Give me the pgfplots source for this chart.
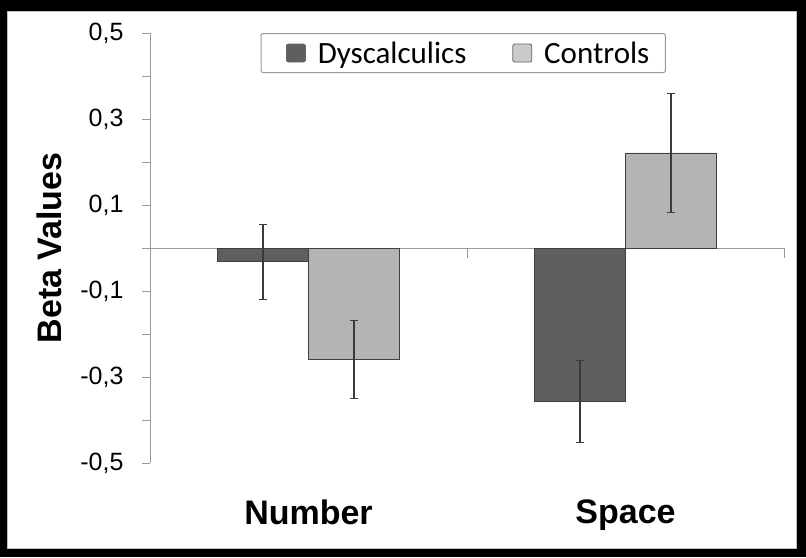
\documentclass[border=0pt]{standalone}
\usepackage{pgfplots}
\pgfplotsset{compat=1.18}
\usepackage{fontspec}
\setmainfont{Liberation Sans}
\newfontfamily\carlito{Carlito}
\definecolor{dysc}{HTML}{5F5F5F}
\definecolor{ctrl}{HTML}{B4B4B4}
\definecolor{axgray}{HTML}{9A9A9A}
\definecolor{errc}{HTML}{3A3A3A}
\begin{document}
\begin{tikzpicture}[x=1pt,y=1pt]
\useasboundingbox (0,0) rectangle (806,557);
\fill[black] (0,0) rectangle (806,557);
\fill[white,draw=gray!50] (7,9) rectangle (796,546);
\begin{axis}[
  at={(150pt,94pt)}, anchor=south west,
  scale only axis, width=634pt, height=430pt,
  xmin=-0.5, xmax=1.5, ymin=-0.5, ymax=0.5,
  ybar=0pt, bar width=91pt,
  axis y line*=left, axis x line*=bottom,
  x axis line style={draw=none},
  y axis line style={axgray, line width=1pt},
  xtick={0,1}, xticklabels={Number,Space},
  x tick style={draw=none},
  xticklabel style={font=\bfseries\fontsize{34}{40}\selectfont, yshift=-25pt},
  ytick={-0.5,-0.3,-0.1,0.1,0.3,0.5},
  yticklabels={{-0,5},{-0,3},{-0,1},{0,1},{0,3},{0,5}},
  minor ytick={-0.4,-0.2,0,0.2,0.4},
  y tick style={axgray, line width=1pt},
  tick align=outside,
  major tick length=8pt, minor tick length=8pt,
  yticklabel style={font=\fontsize{25}{30}\selectfont, xshift=-15pt},
  ylabel={Beta Values},
  ylabel style={font=\bfseries\fontsize{34}{40}\selectfont, at={(axis description cs:-0.158,0.5)}, anchor=center},
  legend columns=2,
  legend style={at={(0.494,1)}, anchor=north, draw=axgray, line width=1pt, rounded corners=2pt,
    font=\carlito\fontsize{31}{36}\selectfont, inner xsep=14pt, inner ysep=6pt,
    /tikz/every odd column/.append style={column sep=10pt},
    /tikz/every even column/.append style={column sep=33pt}},
  clip=false,
]
\draw[axgray, line width=1pt] (axis cs:-0.5,0) -- (axis cs:1.5,0);
\draw[axgray, line width=1pt] (axis cs:0.5,0) -- ++(0pt,-10pt);
\draw[axgray, line width=1pt] (axis cs:1.5,0) -- ++(0pt,-10pt);
\addplot[fill=dysc, draw=black!75, line width=0.8pt,
  legend image code/.code={\path (0pt,0pt); \draw[fill=dysc, draw=black!60, line width=0.8pt] (11pt,-9pt) rectangle (30pt,9pt);},
  error bars/.cd, y dir=both, y explicit,
  error bar style={errc, line width=1.1pt}, error mark options={rotate=90, errc, mark size=4pt, line width=1.1pt}]
  coordinates {(0,-0.032) +- (0,0.087) (1,-0.357) +- (0,0.095)};
\addlegendentry{Dyscalculics}
\addplot[fill=ctrl, draw=black!75, line width=0.8pt,
  legend image code/.code={\path (0pt,0pt); \draw[fill=ctrl!70, draw=black!60, line width=0.8pt] (11pt,-9pt) rectangle (30pt,9pt);},
  error bars/.cd, y dir=both, y explicit,
  error bar style={errc, line width=1.1pt}, error mark options={rotate=90, errc, mark size=4pt, line width=1.1pt}]
  coordinates {(0,-0.259) +- (0,0.091) (1,0.221) +- (0,0.138)};
\addlegendentry{Controls}
\end{axis}
\end{tikzpicture}
\end{document}
